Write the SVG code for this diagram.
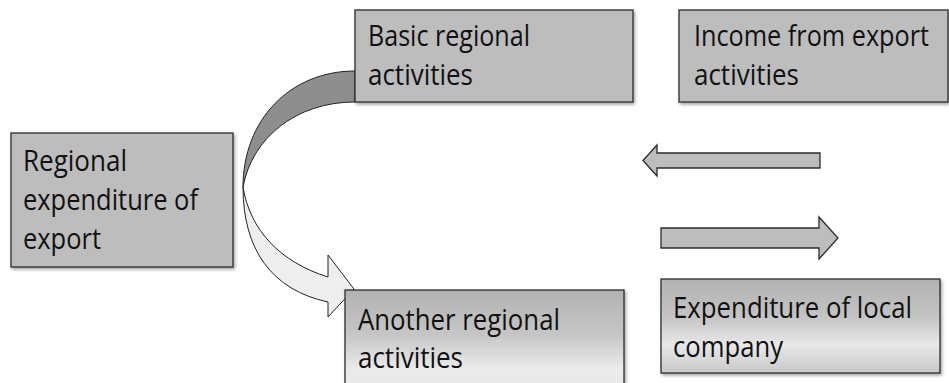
<svg xmlns="http://www.w3.org/2000/svg" width="949" height="383" viewBox="0 0 949 383">
<style>
.box{fill:#bdbdbd;stroke:#2b2b2b;stroke-width:1.3;filter:url(#sh)}
.t{font-family:"Open Sans","Liberation Sans",sans-serif;font-size:29px;fill:#111}
.arr{fill:#bdbdbd;stroke:#2b2b2b;stroke-width:1.3}
</style>
<defs>
<filter id="sh" x="-5%" y="-5%" width="115%" height="120%">
<feDropShadow dx="1.5" dy="2" stdDeviation="1.5" flood-color="#000" flood-opacity="0.35"/>
</filter>
<linearGradient id="g1" x1="0" y1="0" x2="0" y2="1">
<stop offset="0" stop-color="#b2b2b2"/>
<stop offset="0.45" stop-color="#c6c6c6"/>
<stop offset="0.8" stop-color="#ececec"/>
<stop offset="1" stop-color="#e6e6e6"/>
</linearGradient>
<linearGradient id="g2" x1="0" y1="0" x2="0" y2="1">
<stop offset="0" stop-color="#b2b2b2"/>
<stop offset="0.4" stop-color="#c4c4c4"/>
<stop offset="0.7" stop-color="#e8e8e8"/>
<stop offset="1" stop-color="#c8c8c8"/>
</linearGradient>
</defs>
<rect width="949" height="383" fill="#fff"/>
<g id="connectors">
<path d="M355,71 C290,71 243,120 243,187 C252,138 296,102 355,102 Z" fill="#8e8e8e" stroke="#222" stroke-width="1"/>
<path d="M243,187 C250,230 280,262 328,277 L328,255 L354,289 L328,317 L328,302 C272,290 243,250 243,187 Z" fill="#eeeeee" stroke="#222" stroke-width="1"/>
<path class="arr" d="M820,153 L657,153 L657,145 L643,160.5 L657,176 L657,168 L820,168 Z"/>
<path class="arr" d="M661,228 L819,228 L819,217 L838,238 L819,259 L819,248 L661,248 Z"/>
</g>
<g id="basic">
<rect class="box" x="355" y="10" width="278" height="92"/>
<text class="t" x="368" y="46" textLength="162" lengthAdjust="spacingAndGlyphs">Basic regional</text>
<text class="t" x="368" y="85" textLength="105" lengthAdjust="spacingAndGlyphs">activities</text>
</g>
<g id="income">
<rect class="box" x="679" y="10" width="269" height="92"/>
<text class="t" x="694" y="46" textLength="235" lengthAdjust="spacingAndGlyphs">Income from export</text>
<text class="t" x="694" y="85" textLength="105" lengthAdjust="spacingAndGlyphs">activities</text>
</g>
<g id="regional">
<rect class="box" x="11" y="133" width="222" height="134"/>
<text class="t" x="23" y="171" textLength="104" lengthAdjust="spacingAndGlyphs">Regional</text>
<text class="t" x="23" y="210" textLength="175" lengthAdjust="spacingAndGlyphs">expenditure of</text>
<text class="t" x="23" y="249" textLength="78" lengthAdjust="spacingAndGlyphs">export</text>
</g>
<g id="another">
<rect x="345" y="290" width="279" height="100" fill="url(#g1)" stroke="#2b2b2b" stroke-width="1.3" filter="url(#sh)"/>
<text class="t" x="358" y="330" textLength="202" lengthAdjust="spacingAndGlyphs">Another regional</text>
<text class="t" x="358" y="368" textLength="105" lengthAdjust="spacingAndGlyphs">activities</text>
</g>
<g id="expenditure">
<rect x="661" y="279" width="279" height="94" fill="url(#g2)" stroke="#2b2b2b" stroke-width="1.3" filter="url(#sh)"/>
<text class="t" x="673" y="318" textLength="239" lengthAdjust="spacingAndGlyphs">Expenditure of local</text>
<text class="t" x="673" y="357" textLength="110" lengthAdjust="spacingAndGlyphs">company</text>
</g>
</svg>
